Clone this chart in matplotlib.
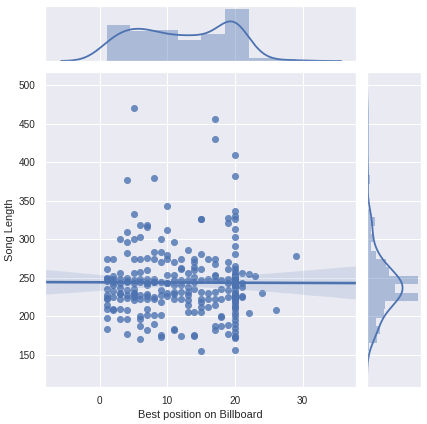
import numpy as np
import matplotlib
matplotlib.use("Agg")
import matplotlib.pyplot as plt
import seaborn as sns

# Best position on Billboard (x) and how many songs sit at each position
position_values = [1, 2, 3, 4, 5, 6, 7, 8, 9, 10, 11, 12, 13, 14, 15, 16, 17,
                   18, 19, 20, 21, 22, 23, 24, 26, 29]
position_counts = [13, 9, 10, 13, 13, 12, 13, 10, 10, 9, 10, 8, 9, 10, 11, 5,
                   12, 6, 10, 51, 5, 2, 1, 1, 1, 1]

# Song lengths, grouped by position in the same order
song_length = [
    222, 274, 228, 262, 250, 246, 250, 235, 224, 215, 210, 198, 184,
    274, 248, 252, 245, 241, 233, 225, 210, 208,
    301, 229, 256, 249, 243, 237, 230, 222, 210, 197,
    377, 310, 296, 282, 224, 246, 250, 245, 234, 228, 208, 197, 177,
    470, 333, 300, 274, 231, 227, 256, 247, 243, 236, 230, 225, 221,
    319, 303, 274, 223, 258, 245, 248, 228, 200, 197, 187, 171,
    318, 316, 276, 229, 226, 260, 249, 241, 244, 223, 210, 202, 182,
    380, 283, 274, 222, 249, 245, 245, 225, 202, 190,
    300, 284, 270, 228, 245, 234, 219, 202, 176, 173,
    343, 312, 280, 274, 226, 254, 243, 244, 230,
    296, 270, 229, 254, 247, 241, 232, 223, 184, 182,
    274, 263, 262, 247, 241, 232, 223, 175,
    286, 256, 247, 238, 232, 228, 221, 215, 206,
    274, 270, 264, 260, 251, 245, 236, 206, 176, 174,
    326, 326, 281, 262, 247, 232, 223, 219, 212, 206, 155,
    274, 249, 230, 223, 212,
    456, 430, 252, 274, 268, 254, 247, 232, 223, 215, 187, 183,
    247, 236, 223, 200, 199, 187,
    328, 321, 270, 262, 249, 243, 234, 225, 189, 177,
    410, 382, 337, 330, 326, 313, 303, 291, 281, 244,
    240, 266, 262, 258, 254, 252, 250, 247, 246, 244,
    241, 240, 248, 236, 225, 232, 229, 228, 226, 222,
    220, 218, 214, 212, 210, 205, 200, 195, 190, 185,
    180, 175, 173, 172, 157, 246, 250, 221, 254, 227,
    225,
    244, 238, 256, 225, 226,
    255, 204,
    252,
    230,
    209,
    278,
]

best_position = np.repeat(position_values, position_counts)
song_length = np.array(song_length, dtype=float)

sns.set_theme(style="darkgrid")
plt.rcParams["font.family"] = ["Liberation Sans", "DejaVu Sans"]
plt.rcParams["xtick.labelsize"] = 10
plt.rcParams["ytick.labelsize"] = 10
plt.rcParams["axes.labelsize"] = 11

blue = "#4C72B0"
W, H = 427, 424
fig = plt.figure(figsize=(W / 72, H / 72), dpi=72)
ax = fig.add_axes([45 / W, 1 - 387 / H, 311 / W, 315 / H])
ax_top = fig.add_axes([45 / W, 1 - 61 / H, 311 / W, 55 / H], sharex=ax)
ax_right = fig.add_axes([367 / W, 1 - 387 / H, 54 / W, 315 / H], sharey=ax)

ax.set_xlim(-8.1, 37.9)
ax.set_ylim(108.5, 517)
sns.regplot(x=best_position, y=song_length, ax=ax, color=blue, truncate=False,
            seed=0, scatter_kws=dict(s=50, alpha=0.8, linewidths=0),
            line_kws=dict(lw=2.6))
ax.set_xlabel("Best position on Billboard")
ax.set_ylabel("Song Length")
ax.set_xticks([0, 10, 20, 30])

ax_top.hist(best_position, bins=8, density=True, color=blue, alpha=0.4,
            linewidth=0)
sns.kdeplot(x=best_position, ax=ax_top, color=blue, lw=1.8, cut=3)
ax_right.hist(song_length, bins=29, density=True, color=blue, alpha=0.4,
              linewidth=0, orientation="horizontal")
sns.kdeplot(y=song_length, ax=ax_right, color=blue, lw=1.8, cut=3)

ax_top.yaxis.grid(False)
ax_right.xaxis.grid(False)
for a in (ax_top, ax_right):
    a.set_xlabel("")
    a.set_ylabel("")
    a.tick_params(labelleft=False, labelbottom=False, length=0)
ax_top.set_ylim(bottom=0)
ax_right.set_xlim(left=0)
ax.set_xlim(-8.1, 37.9)
ax.set_ylim(108.5, 517)

fig.savefig("out.png", dpi=72)
